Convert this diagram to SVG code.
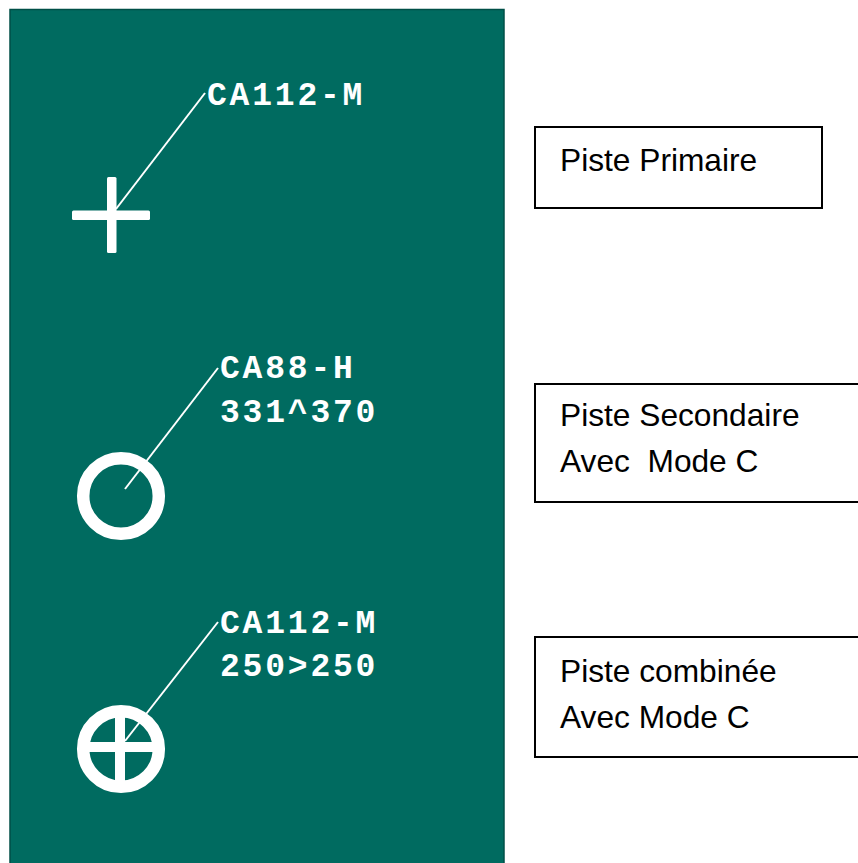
<svg xmlns="http://www.w3.org/2000/svg" width="858" height="863" viewBox="0 0 858 863">
<style>
.panel{fill:#006B60;stroke:#004F47;stroke-width:1.5}
.sym{fill:#FFFFFF}
.ring{fill:none;stroke:#FFFFFF;stroke-width:12.5}
.lead{stroke:#FFFFFF;stroke-width:2;fill:none}
.code{font-family:"Liberation Mono","Courier New",monospace;font-weight:bold;font-size:33px;fill:#FFFFFF;letter-spacing:2.8px}
.box{fill:#FFFFFF;stroke:#000000;stroke-width:2}
.lbl{font-family:"Liberation Sans",Arial,sans-serif;font-size:31.7px;fill:#000000;white-space:pre}
</style>
<rect id="panel" class="panel" x="10" y="9.5" width="494" height="870"/>
<g id="connectors">
<line class="lead" x1="205" y1="93" x2="116" y2="209"/>
<line class="lead" x1="218" y1="368" x2="125" y2="489"/>
<line class="lead" x1="218" y1="622" x2="125" y2="741"/>
</g>
<g id="primary-symbol">
<rect class="sym" x="107" y="177" width="9.5" height="76" rx="1.5"/>
<rect class="sym" x="72" y="210.5" width="78" height="9.5" rx="1.5"/>
<text class="code" x="207" y="105">CA112-M</text>
</g>
<g id="secondary-symbol">
<circle class="ring" cx="121" cy="496" r="37.8"/>
<text class="code" x="220" y="378">CA88-H</text>
<text class="code" x="220" y="422">331^370</text>
</g>
<g id="combined-symbol">
<circle class="ring" cx="121" cy="749" r="37.8"/>
<rect class="sym" x="115" y="713" width="10" height="72"/>
<rect class="sym" x="85" y="742" width="72" height="10"/>
<text class="code" x="220" y="633">CA112-M</text>
<text class="code" x="220" y="676">250&gt;250</text>
</g>
<g id="legend-primary">
<rect class="box" x="535" y="127" width="287" height="81"/>
<text class="lbl" x="560" y="171">Piste Primaire</text>
</g>
<g id="legend-secondary">
<rect class="box" x="535" y="384" width="340" height="118"/>
<text class="lbl" x="560" y="426">Piste Secondaire</text>
<text class="lbl" x="560" y="472">Avec  Mode C</text>
</g>
<g id="legend-combined">
<rect class="box" x="535" y="637" width="340" height="120"/>
<text class="lbl" x="560" y="682">Piste combinée</text>
<text class="lbl" x="560" y="728">Avec Mode C</text>
</g>
</svg>
